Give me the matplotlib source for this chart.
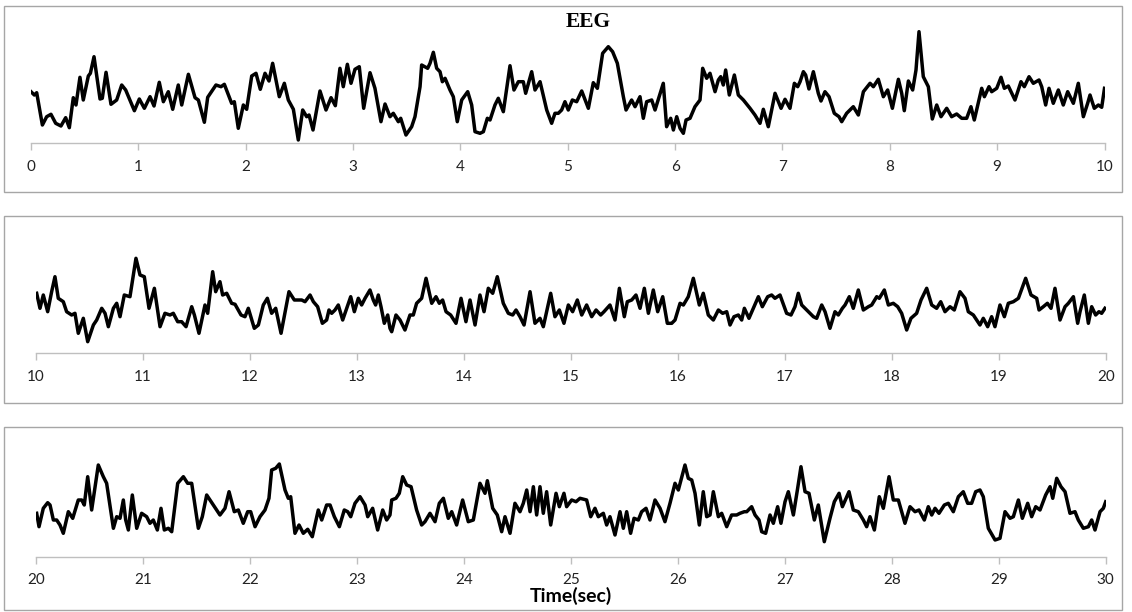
import matplotlib
matplotlib.use("Agg")
import matplotlib.pyplot as plt
from matplotlib.patches import Rectangle

# EEG trace (time in s, amplitude in arbitrary units above the axis line)
t1 = [0.000, 0.031, 0.053, 0.106, 0.146, 0.186, 0.230, 0.279, 0.323, 0.357, 0.394, 0.419, 0.456, 0.487,
      0.534, 0.553, 0.587, 0.643, 0.664, 0.699, 0.745, 0.798, 0.845, 0.882, 0.963, 1.009, 1.056, 1.109,
      1.146, 1.195, 1.233, 1.279, 1.320, 1.372, 1.404, 1.466, 1.528, 1.559, 1.615, 1.646, 1.723, 1.770,
      1.801, 1.869, 1.894, 1.931, 1.978, 2.009, 2.056, 2.096, 2.136, 2.180, 2.217, 2.251, 2.313, 2.360,
      2.397, 2.444, 2.490, 2.531, 2.568, 2.590, 2.627, 2.692, 2.748, 2.795, 2.835, 2.878, 2.909, 2.947,
      2.981, 3.018, 3.058, 3.099, 3.158, 3.204, 3.260, 3.298, 3.344, 3.375, 3.422, 3.444, 3.493, 3.546,
      3.577, 3.624, 3.639, 3.695, 3.717, 3.748, 3.779, 3.810, 3.832, 3.857, 3.903, 3.934, 3.971, 4.012,
      4.068, 4.105, 4.136, 4.183, 4.214, 4.251, 4.276, 4.322, 4.353, 4.400, 4.462, 4.499, 4.540, 4.586,
      4.608, 4.664, 4.695, 4.742, 4.804, 4.850, 4.881, 4.912, 4.943, 4.974, 5.005, 5.043, 5.083, 5.130,
      5.192, 5.238, 5.276, 5.325, 5.378, 5.418, 5.462, 5.518, 5.543, 5.595, 5.627, 5.673, 5.704, 5.735,
      5.782, 5.813, 5.890, 5.921, 5.959, 5.984, 6.015, 6.046, 6.077, 6.102, 6.139, 6.185, 6.232, 6.257,
      6.294, 6.325, 6.372, 6.403, 6.425, 6.449, 6.471, 6.505, 6.552, 6.589, 6.636, 6.698, 6.744, 6.791,
      6.822, 6.868, 6.931, 6.987, 7.024, 7.070, 7.111, 7.142, 7.164, 7.195, 7.216, 7.247, 7.288, 7.334,
      7.359, 7.396, 7.434, 7.483, 7.527, 7.552, 7.598, 7.660, 7.707, 7.754, 7.816, 7.847, 7.893, 7.940,
      7.980, 8.024, 8.080, 8.111, 8.135, 8.173, 8.213, 8.244, 8.272, 8.312, 8.359, 8.396, 8.437, 8.477,
      8.530, 8.576, 8.623, 8.670, 8.716, 8.756, 8.787, 8.856, 8.881, 8.924, 8.949, 8.996, 9.036, 9.067,
      9.104, 9.166, 9.222, 9.253, 9.297, 9.337, 9.390, 9.415, 9.452, 9.483, 9.523, 9.570, 9.616, 9.657,
      9.710, 9.756, 9.803, 9.843, 9.865, 9.905, 9.943, 9.974, 10.000]
v1 = [51.6, 48.3, 50.6, 18.3, 26.6, 29.0, 20.0, 17.3, 25.6, 15.6, 45.6, 38.3, 66.0, 43.3,
      67.3, 70.0, 86.6, 44.3, 45.0, 71.0, 39.0, 43.3, 58.3, 53.3, 32.6, 44.3, 35.0, 46.6,
      37.3, 61.0, 41.6, 51.6, 34.0, 58.3, 38.3, 69.0, 45.6, 43.3, 21.0, 46.0, 58.3, 56.6,
      59.0, 40.0, 41.6, 15.0, 38.3, 34.0, 67.3, 70.0, 54.0, 70.0, 62.3, 80.0, 46.6, 60.0,
      43.3, 34.0, 3.3, 33.3, 26.6, 28.3, 13.3, 52.3, 33.3, 45.6, 37.6, 75.0, 56.6, 79.0,
      60.0, 74.0, 76.6, 35.0, 70.6, 55.0, 21.6, 39.3, 26.6, 30.0, 21.6, 25.0, 8.3, 16.6,
      26.6, 56.6, 78.3, 75.0, 80.0, 91.0, 75.0, 71.6, 61.6, 65.0, 53.3, 46.6, 21.6, 43.3,
      51.6, 38.3, 11.6, 10.0, 11.6, 25.0, 23.3, 38.3, 45.0, 31.6, 77.6, 53.3, 61.6, 61.6,
      50.0, 71.6, 53.3, 61.6, 33.3, 20.0, 30.0, 30.0, 33.3, 41.6, 33.3, 43.3, 41.6, 52.3,
      35.0, 60.6, 55.0, 90.0, 96.6, 91.6, 80.0, 46.6, 33.3, 43.3, 36.6, 46.6, 25.0, 41.6,
      43.3, 33.3, 60.0, 16.6, 25.0, 13.3, 26.6, 15.0, 10.0, 23.3, 25.0, 36.6, 43.3, 75.0,
      65.0, 70.0, 51.6, 63.3, 66.6, 58.3, 73.3, 48.3, 68.3, 48.3, 43.3, 35.0, 28.3, 20.0,
      34.0, 16.6, 50.0, 35.0, 44.0, 35.0, 60.0, 56.6, 61.6, 71.6, 68.3, 54.3, 71.6, 50.0,
      42.3, 51.6, 46.6, 30.0, 26.6, 21.6, 30.0, 36.6, 28.3, 51.6, 60.0, 56.6, 64.0, 46.6,
      53.3, 35.0, 64.0, 50.0, 32.6, 62.3, 53.3, 73.3, 111.6, 66.6, 56.6, 24.3, 38.3, 26.6,
      35.0, 26.6, 29.3, 25.0, 25.0, 36.6, 23.3, 55.0, 46.6, 56.6, 51.6, 55.0, 66.0, 55.0,
      57.3, 43.3, 61.6, 56.6, 66.6, 60.0, 63.3, 56.6, 38.3, 55.0, 40.0, 53.3, 38.3, 51.6,
      40.0, 60.0, 26.6, 40.0, 48.3, 35.0, 38.3, 36.0, 55.0]

t2 = [10.009, 10.040, 10.071, 10.112, 10.149, 10.180, 10.211, 10.258, 10.289, 10.336, 10.367, 10.398,
      10.445, 10.486, 10.539, 10.570, 10.617, 10.648, 10.679, 10.726, 10.757, 10.788, 10.828, 10.881,
      10.937, 10.975, 11.015, 11.059, 11.109, 11.162, 11.208, 11.255, 11.286, 11.327, 11.364, 11.405,
      11.458, 11.483, 11.526, 11.582, 11.607, 11.654, 11.682, 11.722, 11.747, 11.785, 11.831, 11.863,
      11.919, 11.956, 11.987, 12.043, 12.081, 12.127, 12.165, 12.205, 12.243, 12.293, 12.367, 12.417,
      12.486, 12.517, 12.564, 12.595, 12.635, 12.679, 12.719, 12.741, 12.766, 12.797, 12.828, 12.869,
      12.912, 12.944, 12.978, 13.015, 13.046, 13.078, 13.124, 13.155, 13.177, 13.202, 13.227, 13.258,
      13.290, 13.311, 13.327, 13.367, 13.405, 13.451, 13.498, 13.529, 13.560, 13.607, 13.648, 13.701,
      13.741, 13.772, 13.803, 13.835, 13.878, 13.928, 13.975, 14.021, 14.059, 14.106, 14.152, 14.190,
      14.230, 14.271, 14.314, 14.370, 14.417, 14.458, 14.489, 14.526, 14.564, 14.620, 14.666, 14.713,
      14.744, 14.813, 14.853, 14.894, 14.937, 14.978, 15.018, 15.062, 15.103, 15.149, 15.196, 15.237,
      15.280, 15.311, 15.367, 15.414, 15.455, 15.501, 15.529, 15.570, 15.610, 15.648, 15.688, 15.726,
      15.772, 15.813, 15.860, 15.903, 15.944, 15.975, 16.022, 16.053, 16.099, 16.146, 16.202, 16.239,
      16.286, 16.333, 16.380, 16.420, 16.458, 16.489, 16.526, 16.567, 16.598, 16.623, 16.666, 16.707,
      16.754, 16.791, 16.841, 16.878, 16.909, 16.956, 17.018, 17.059, 17.096, 17.127, 17.159, 17.205,
      17.236, 17.268, 17.299, 17.346, 17.377, 17.423, 17.470, 17.501, 17.539, 17.564, 17.604, 17.641,
      17.688, 17.735, 17.782, 17.813, 17.860, 17.884, 17.931, 17.969, 18.015, 18.056, 18.093, 18.140,
      18.180, 18.233, 18.274, 18.327, 18.374, 18.420, 18.458, 18.498, 18.545, 18.585, 18.638, 18.685,
      18.716, 18.763, 18.794, 18.825, 18.856, 18.897, 18.934, 18.965, 19.012, 19.053, 19.090, 19.137,
      19.184, 19.252, 19.302, 19.355, 19.377, 19.417, 19.455, 19.489, 19.526, 19.573, 19.620, 19.651,
      19.698, 19.738, 19.760, 19.800, 19.838, 19.869, 19.906, 19.937, 19.962, 19.993]
v2 = [60.0, 45.0, 58.3, 41.6, 61.6, 76.6, 55.0, 51.6, 41.6, 38.3, 40.0, 20.0,
      35.0, 11.6, 28.3, 33.3, 45.0, 40.0, 26.6, 45.0, 50.0, 36.6, 58.3, 56.6,
      95.0, 78.3, 76.6, 45.0, 65.0, 26.6, 40.0, 38.3, 40.0, 31.6, 31.6, 26.6,
      46.6, 38.3, 20.0, 48.3, 40.0, 81.6, 61.6, 71.6, 58.3, 60.0, 50.0, 49.0,
      38.3, 36.6, 45.0, 25.0, 28.3, 48.3, 55.0, 40.0, 45.0, 20.0, 61.6, 53.3,
      53.3, 51.6, 58.3, 51.6, 46.6, 30.0, 33.3, 43.3, 40.0, 43.3, 48.3, 33.3,
      46.6, 56.6, 41.6, 55.0, 48.3, 55.0, 63.3, 53.3, 48.3, 58.3, 46.6, 30.0,
      38.3, 25.0, 21.6, 38.3, 33.3, 23.3, 38.3, 38.3, 50.0, 55.0, 75.0, 50.0,
      56.6, 50.0, 53.3, 41.6, 38.3, 30.0, 55.0, 31.6, 53.3, 28.3, 58.3, 41.6,
      65.0, 60.0, 76.6, 50.0, 40.0, 38.3, 43.3, 36.6, 28.3, 61.6, 30.0, 35.0,
      26.6, 60.0, 36.6, 43.3, 30.0, 48.3, 41.6, 53.3, 38.3, 48.3, 36.6, 43.3,
      38.3, 41.6, 48.3, 33.3, 65.0, 36.6, 51.6, 53.3, 58.3, 45.0, 65.0, 40.0,
      63.3, 41.6, 56.6, 30.0, 30.0, 33.3, 50.0, 48.3, 56.6, 75.0, 48.3, 60.0,
      38.3, 33.3, 43.3, 40.0, 41.6, 28.3, 36.6, 38.3, 33.3, 45.0, 35.0, 45.0,
      56.6, 46.6, 56.6, 58.3, 55.0, 58.3, 40.0, 38.3, 46.6, 60.0, 48.3, 43.3,
      40.0, 36.6, 35.0, 48.3, 41.6, 25.0, 41.6, 38.3, 45.0, 48.3, 56.6, 45.0,
      63.3, 43.3, 46.6, 48.3, 56.6, 55.0, 63.3, 48.3, 50.0, 46.6, 40.0, 23.3,
      35.0, 40.0, 53.3, 65.0, 48.3, 45.0, 51.6, 41.6, 46.6, 43.3, 61.6, 55.0,
      41.6, 38.3, 33.3, 28.3, 35.0, 26.6, 36.6, 26.6, 48.3, 36.6, 50.0, 51.6,
      55.0, 75.0, 58.3, 55.0, 43.3, 46.6, 50.0, 45.0, 65.0, 33.3, 46.6, 50.0,
      56.6, 30.0, 41.6, 58.3, 30.0, 46.6, 38.3, 41.6, 40.0, 45.0]

t3 = [20.009, 20.031, 20.071, 20.112, 20.134, 20.165, 20.196, 20.227, 20.258, 20.305, 20.346, 20.398,
      20.430, 20.454, 20.486, 20.523, 20.585, 20.632, 20.663, 20.726, 20.757, 20.788, 20.819, 20.841,
      20.866, 20.903, 20.944, 20.990, 21.037, 21.068, 21.099, 21.137, 21.171, 21.202, 21.240, 21.271,
      21.327, 21.380, 21.420, 21.458, 21.520, 21.557, 21.598, 21.660, 21.691, 21.722, 21.769, 21.807,
      21.856, 21.894, 21.940, 21.981, 22.009, 22.050, 22.096, 22.143, 22.180, 22.205, 22.243, 22.277,
      22.330, 22.361, 22.383, 22.423, 22.461, 22.501, 22.542, 22.585, 22.641, 22.673, 22.719, 22.751,
      22.791, 22.838, 22.884, 22.916, 22.944, 22.984, 23.031, 23.078, 23.103, 23.149, 23.196, 23.243,
      23.280, 23.311, 23.327, 23.367, 23.398, 23.430, 23.467, 23.508, 23.560, 23.607, 23.638, 23.685,
      23.732, 23.772, 23.810, 23.856, 23.888, 23.934, 23.990, 24.043, 24.090, 24.152, 24.199, 24.221,
      24.271, 24.314, 24.355, 24.386, 24.433, 24.479, 24.526, 24.557, 24.589, 24.620, 24.651, 24.682,
      24.713, 24.744, 24.775, 24.813, 24.863, 24.894, 24.937, 24.962, 25.009, 25.050, 25.087, 25.149,
      25.187, 25.227, 25.258, 25.305, 25.336, 25.367, 25.414, 25.461, 25.492, 25.523, 25.560, 25.592,
      25.632, 25.663, 25.704, 25.741, 25.788, 25.835, 25.881, 25.928, 25.975, 26.006, 26.068, 26.099,
      26.131, 26.162, 26.202, 26.239, 26.271, 26.302, 26.333, 26.380, 26.411, 26.458, 26.504, 26.551,
      26.582, 26.623, 26.645, 26.691, 26.723, 26.760, 26.785, 26.822, 26.863, 26.894, 26.934, 26.965,
      27.003, 27.034, 27.081, 27.121, 27.152, 27.190, 27.227, 27.277, 27.314, 27.370, 27.423, 27.464,
      27.508, 27.539, 27.601, 27.641, 27.688, 27.735, 27.766, 27.797, 27.838, 27.884, 27.922, 27.975,
      28.015, 28.062, 28.124, 28.171, 28.218, 28.255, 28.305, 28.342, 28.374, 28.405, 28.442, 28.492,
      28.529, 28.576, 28.623, 28.669, 28.710, 28.747, 28.785, 28.825, 28.856, 28.903, 28.966, 29.012,
      29.059, 29.106, 29.137, 29.184, 29.221, 29.271, 29.308, 29.346, 29.386, 29.439, 29.480, 29.505,
      29.542, 29.582, 29.620, 29.666, 29.713, 29.744, 29.791, 29.838, 29.869, 29.900, 29.947, 29.978,
      30.000]
v3 = [43.4, 30.0, 48.4, 54.0, 51.7, 36.7, 36.7, 31.7, 23.4, 45.0, 38.4, 56.7,
      56.7, 51.7, 80.0, 46.7, 91.7, 80.0, 73.4, 28.4, 40.0, 38.4, 56.7, 36.7,
      26.7, 61.7, 28.4, 43.4, 40.0, 33.4, 36.7, 26.7, 48.4, 26.7, 28.4, 25.0,
      73.4, 80.0, 73.4, 73.4, 28.4, 40.0, 61.7, 51.7, 46.7, 41.7, 48.4, 65.0,
      45.0, 46.7, 33.4, 45.0, 45.0, 30.0, 40.0, 46.7, 58.4, 86.7, 88.4, 92.7,
      66.7, 58.4, 60.0, 23.4, 31.7, 23.4, 27.4, 20.0, 46.7, 36.7, 51.7, 51.7,
      40.0, 30.0, 46.7, 45.0, 40.0, 53.4, 60.0, 51.7, 40.0, 48.4, 26.7, 46.7,
      36.7, 41.7, 56.7, 58.4, 63.4, 80.0, 71.7, 70.0, 46.7, 31.7, 35.0, 43.4,
      35.0, 53.4, 58.4, 38.4, 45.0, 31.7, 56.7, 35.0, 36.7, 73.4, 63.4, 76.0,
      48.4, 41.7, 25.0, 40.0, 23.4, 53.4, 45.0, 53.4, 66.7, 45.0, 70.0, 41.7,
      70.0, 43.4, 65.0, 31.7, 63.4, 50.0, 63.4, 50.0, 56.7, 55.0, 58.4, 56.7,
      40.0, 48.4, 40.0, 43.4, 31.7, 40.0, 21.7, 45.0, 28.4, 45.0, 23.4, 38.4,
      36.7, 45.0, 48.4, 36.7, 56.7, 48.4, 35.0, 53.4, 73.4, 66.7, 91.7, 78.4,
      76.7, 63.4, 31.7, 65.0, 40.0, 41.7, 65.0, 40.0, 43.4, 30.0, 41.7, 41.7,
      43.4, 45.0, 45.0, 50.0, 41.7, 36.7, 25.0, 23.4, 41.7, 33.4, 50.0, 33.4,
      55.0, 65.0, 41.7, 68.4, 90.0, 65.0, 63.4, 36.7, 51.7, 15.0, 38.4, 55.0,
      63.4, 50.0, 65.0, 46.7, 45.0, 36.7, 30.0, 40.0, 26.7, 60.0, 48.4, 80.0,
      56.7, 56.7, 33.4, 50.0, 45.0, 46.7, 36.7, 50.0, 41.7, 48.4, 43.4, 51.7,
      53.4, 45.0, 60.0, 65.0, 53.4, 53.4, 65.0, 66.7, 60.0, 28.4, 16.7, 18.4,
      45.0, 38.4, 40.0, 56.7, 38.4, 53.4, 40.0, 50.0, 46.7, 61.7, 70.0, 58.4,
      78.4, 70.0, 65.0, 43.4, 45.0, 36.7, 28.4, 30.0, 36.7, 26.7, 45.0, 48.4,
      55.0]

W, H = 1132, 612

fig = plt.figure(figsize=(W / 100, H / 100), dpi=100)

# Excel style chart-area frames (pixel boxes: left, top, right, bottom)
for (l, t, r, b) in [(4, 6, 1122, 192), (4, 216, 1122, 403), (4, 427, 1122, 610)]:
    fig.patches.append(Rectangle((l / W, 1 - b / H), (r - l) / W, (b - t) / H,
                                 transform=fig.transFigure, fill=False,
                                 edgecolor="#a6a6a6", linewidth=1.0))

# (left px, right px, axis line px, x range, data)
panels = [(31, 1104.5, 143.3, (0, 10), t1, v1),
          (35.7, 1105.7, 353.3, (10, 20), t2, v2),
          (35.7, 1105.7, 556.7, (20, 30), t3, v3)]

hpx = 130
for (x0, x1, ya, xr, t, v) in panels:
    ax = fig.add_axes([x0 / W, 1 - ya / H, (x1 - x0) / W, hpx / H])
    ax.plot(t, v, color="black", linewidth=2.5, solid_joinstyle="round")
    ax.set_xlim(*xr)
    ax.set_ylim(0, hpx)
    ax.set_xticks(range(xr[0], xr[1] + 1))
    for s in ["top", "right", "left"]:
        ax.spines[s].set_visible(False)
    ax.spines["bottom"].set_color("#bfbfbf")
    ax.spines["bottom"].set_linewidth(1.0)
    ax.set_yticks([])
    ax.tick_params(axis="x", direction="out", length=5, width=1.0, color="#bfbfbf",
                   labelsize=11, labelcolor="#222222", pad=7)
    for lab in ax.get_xticklabels():
        lab.set_family("Lato")
    ax.patch.set_alpha(0)

fig.text(588 / W, 1 - 22 / H, "EEG", ha="center", va="center",
         family="Liberation Serif", fontweight="bold", fontsize=15.5)
fig.text(571 / W, 1 - 596 / H, "Time(sec)", ha="center", va="center",
         family="Lato", fontweight="bold", fontsize=14)

fig.savefig("out.png", dpi=100)
